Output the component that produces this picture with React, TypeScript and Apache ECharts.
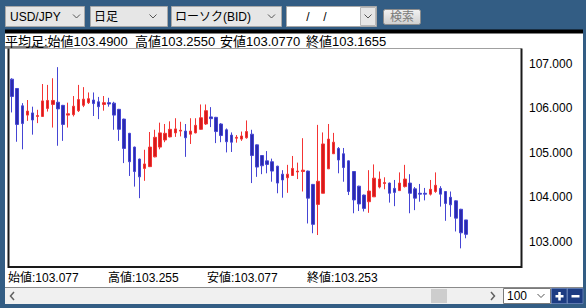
import React, { useEffect, useRef } from "react";
import * as echarts from "echarts";

// ---- Data (Heikin-Ashi daily candles, USD/JPY) ----
const opens = [
  106.66, 106.45, 106.06, 105.85, 105.9, 105.82, 105.82, 106.0, 106.09, 106.14,
  106.07, 105.85, 105.86, 105.95, 106.07, 106.13, 106.19, 106.15, 106.09, 106.13,
  106.12, 105.98, 105.76, 105.44, 105.13, 104.86, 104.65, 104.69, 104.91, 105.13,
  105.29, 105.36, 105.45, 105.49, 105.49, 105.42, 105.45, 105.53, 105.65, 105.81,
  105.8, 105.65, 105.52, 105.4, 105.33, 105.31, 105.34, 105.42, 105.18, 104.94,
  104.82, 104.8, 104.7, 104.52, 104.44, 104.49, 104.57, 104.58, 104.59, 104.29,
  103.84, 104.09, 104.64, 104.98, 105.1, 104.98, 104.82, 104.58, 104.25, 104.05,
  103.9, 104.01, 104.23, 104.31, 104.32, 104.2, 104.15, 104.24, 104.32, 104.19,
  104.09, 104.09, 104.07, 104.13, 104.2, 104.13, 104.0, 103.92, 103.73, 103.49,
];
const closes = [
  106.27, 105.64, 105.66, 105.94, 105.74, 105.84, 106.17, 106.18, 106.18, 105.99,
  105.64, 105.88, 106.05, 106.2, 106.21, 106.22, 106.11, 106.04, 106.13, 106.1,
  105.85, 105.53, 105.1, 104.8, 104.58, 104.46, 104.75, 105.13, 105.35, 105.45,
  105.44, 105.53, 105.54, 105.51, 105.34, 105.49, 105.62, 105.79, 105.95, 105.77,
  105.48, 105.39, 105.25, 105.24, 105.35, 105.38, 105.48, 104.94, 104.68, 104.71,
  104.74, 104.59, 104.32, 104.39, 104.52, 104.65, 104.59, 104.61, 103.98, 103.39,
  104.36, 105.2, 105.31, 105.24, 104.84, 104.67, 104.13, 103.94, 103.85, 103.75,
  104.14, 104.43, 104.41, 104.33, 104.09, 104.11, 104.32, 104.41, 104.09, 103.98,
  104.07, 104.07, 104.18, 104.27, 104.07, 103.86, 103.83, 103.53, 103.2, 103.1655,
];
const lows = [
  105.91, 105.25, 105.08, 105.72, 105.41, 105.67, 105.81, 105.93, 105.57, 105.16,
  105.27, 105.57, 105.82, 105.92, 106.03, 106.1, 105.83, 105.76, 105.95, 106.04,
  105.52, 105.27, 104.77, 104.48, 104.24, 103.98, 104.37, 104.68, 104.9, 105.08,
  105.24, 105.35, 105.36, 105.37, 104.91, 105.2, 105.44, 105.52, 105.63, 105.58,
  105.22, 105.24, 105.01, 105.02, 105.23, 105.27, 105.32, 104.32, 104.46, 104.52,
  104.54, 104.35, 104.09, 103.99, 104.1, 104.48, 104.41, 104.13, 103.41, 103.19,
  103.15, 104.09, 104.64, 104.98, 104.54, 104.35, 104.05, 103.64, 103.69, 103.68,
  103.65, 104.01, 104.2, 104.18, 103.88, 103.8, 104.15, 104.22, 103.64, 103.71,
  103.9, 103.93, 104.04, 104.1, 103.79, 103.47, 103.56, 103.23, 102.85, 103.077,
];
const highs = [
  106.68, 106.46, 106.12, 106.19, 106.04, 105.97, 106.55, 106.53, 106.68, 106.93,
  106.08, 106.13, 106.28, 106.53, 106.48, 106.36, 106.36, 106.26, 106.28, 106.24,
  106.15, 105.99, 105.77, 105.45, 105.14, 104.87, 105.07, 105.47, 105.52, 105.68,
  105.65, 105.71, 105.78, 105.7, 105.65, 105.78, 105.78, 106.09, 106.09, 106.03,
  105.81, 105.67, 105.55, 105.46, 105.4, 105.48, 105.73, 105.52, 105.19, 104.95,
  105.04, 104.87, 104.71, 104.61, 104.73, 104.93, 104.78, 105.33, 104.6, 104.3,
  105.63, 105.46, 105.65, 105.45, 105.13, 105.11, 104.83, 104.59, 104.26, 104.06,
  104.61, 104.74, 104.58, 104.45, 104.33, 104.39, 104.56, 104.73, 104.52, 104.23,
  104.3, 104.21, 104.39, 104.56, 104.25, 104.14, 104.13, 103.93, 103.74, 103.49,
];
const slotCount = 100;
const categories = Array.from({ length: slotCount }, (_, i) => `D${i + 1}`);
const yMin = 102.43;
const yMax = 107.35;

const toolbarLabels = ["USD/JPY", "日足", "ローソク(BID)"];
const headerLabels = ["平均足:始値103.4900", "高値103.2550", "安値103.0770", "終値103.1655"];
const footerLabels = ["始値:103.077", "高値:103.255", "安値:103.077", "終値:103.253"];
const zoomLabel = "100";
const searchLabel = "検索";

const FONT = '"Liberation Sans", Arial, "Noto Sans CJK JP", sans-serif';

const rect = (x: number, y: number, w: number, h: number, fill: string, stroke?: string, lw = 1, z = 1) => ({
  type: "rect",
  silent: true,
  z,
  shape: { x, y, width: w, height: h },
  style: { fill, stroke: stroke || null, lineWidth: stroke ? lw : 0 },
});
const text = (x: number, y: number, t: string, extra: any = {}) => ({
  type: "text",
  silent: true,
  z: 30,
  x,
  y,
  style: { text: t, fill: "#000", fontSize: 12, fontFamily: FONT, verticalAlign: "middle", align: "left", ...extra },
});
const line = (pts: number[][], stroke: string, lw = 1, z = 25) => ({
  type: "polyline",
  silent: true,
  z,
  shape: { points: pts },
  style: { stroke, lineWidth: lw, fill: null },
});
const chevron = (cx: number, cy: number) =>
  line([[cx - 3.5, cy - 2], [cx, cy + 1.5], [cx + 3.5, cy - 2]], "#555", 1, 30);

export default function App() {
  const ref = useRef<HTMLDivElement>(null);
  useEffect(() => {
    if (!ref.current) return;
    const chart = echarts.init(ref.current, undefined, { renderer: "svg", width: 586, height: 308 });
    const candleData = opens.map((o, i) => [o, closes[i], lows[i], highs[i]]);

    const headerX = [5, 135, 220, 306];
    const footerX = [8, 108, 207, 307];

    const graphics: any[] = [
      // white panel
      rect(5, 33, 578, 271, "#ffffff", undefined, 1, 0),
      // black bar under toolbar
      rect(5, 29.5, 578, 4, "#000000", undefined, 1, 1),
      // toolbar dropdowns
      rect(5.5, 6.5, 79, 20, "#e6e6e6", "#a8a8a8", 1, 2),
      rect(90.5, 6.5, 77, 20, "#e6e6e6", "#a8a8a8", 1, 2),
      rect(171.5, 6.5, 110, 20, "#e6e6e6", "#a8a8a8", 1, 2),
      rect(286.5, 6.5, 90, 20, "#ffffff", "#a8a8a8", 1, 2),
      rect(360.5, 7.5, 15, 18, "#e6e6e6", "#b8b8b8", 1, 3),
      {
        type: "rect",
        silent: true,
        z: 2,
        shape: { x: 383.5, y: 9.5, width: 37, height: 15, r: 2 },
        style: {
          fill: new echarts.graphic.LinearGradient(0, 0, 0, 1, [
            { offset: 0, color: "#f2f2f2" },
            { offset: 1, color: "#cfcfcf" },
          ]),
          stroke: "#8c8c8c",
          lineWidth: 1,
        },
      },
      text(10, 17, toolbarLabels[0]),
      text(94, 17, toolbarLabels[1]),
      text(175, 17, toolbarLabels[2]),
      text(308, 17, "/", { align: "center" }),
      text(325, 17, "/", { align: "center" }),
      text(402, 17, searchLabel, { align: "center", fill: "#7a7a7a" }),
      chevron(76.5, 16.5),
      chevron(153, 16.5),
      chevron(271.5, 16.5),
      chevron(368, 16.5),
      // header
      ...headerLabels.map((t, i) => text(headerX[i], 41, t, { fontSize: 13 })),
      line([[5, 48.5], [521.5, 48.5]], "#a0a0a0", 1, 24),
      line([[5, 47], [48, 47]], "#000", 1, 25),
      // plot frame
      line([[8.5, 48.5], [8.5, 267], [521.5, 267], [521.5, 48.5]], "#1a1a1a", 2, 25),
      // footer
      ...footerLabels.map((t, i) => text(footerX[i], 277.5, t)),
      // scrollbar
      line([[5, 287.5], [583, 287.5]], "#8a8a8a", 1, 4),
      rect(5, 288, 498, 16, "#f0f0f0", undefined, 1, 3),
      rect(431, 289, 16, 14, "#cdcdcd", undefined, 1, 4),
      line([[14, 292], [10.5, 296], [14, 300]], "#606060", 1.5, 30),
      line([[491, 292], [494.5, 296], [491, 300]], "#606060", 1.5, 30),
      rect(503.5, 288.5, 47, 15, "#ffffff", "#7a7a7a", 1, 4),
      text(507, 296, zoomLabel),
      chevron(541, 296),
      rect(551.5, 288.5, 15.5, 15, "#1d3c82", "#5d79b0", 1, 4),
      rect(567.5, 288.5, 15.5, 15, "#1d3c82", "#5d79b0", 1, 4),
      rect(555.5, 295, 8, 2.5, "#ffffff", undefined, 1, 6),
      rect(558.25, 292, 2.5, 8.5, "#ffffff", undefined, 1, 6),
      rect(571.5, 295, 8, 2.5, "#ffffff", undefined, 1, 6),
    ];

    chart.setOption({
      animation: false,
      backgroundColor: "#335d84",
      grid: { left: 9.5, top: 48.5, width: 510, height: 218.5, show: false, containLabel: false },
      xAxis: {
        type: "category",
        data: categories,
        boundaryGap: true,
        axisLine: { show: false },
        axisTick: { show: false },
        axisLabel: { show: false },
        splitLine: { show: false },
      },
      yAxis: {
        type: "value",
        position: "right",
        min: yMin,
        max: yMax,
        splitNumber: 5,
        axisLine: { show: false },
        axisTick: { show: false },
        splitLine: { show: false },
        axisLabel: {
          margin: 9.5,
          color: "#000",
          fontSize: 12,
          fontFamily: FONT,
          showMinLabel: false,
          showMaxLabel: false,
          formatter: (v: number) => (Math.abs(v - Math.round(v)) < 1e-6 ? v.toFixed(3) : ""),
        },
      },
      graphic: { elements: graphics },
      series: [
        {
          type: "candlestick",
          data: candleData,
          barWidth: 3,
          z: 10,
          itemStyle: {
            color: "#d41c1c",
            color0: "#2b2baa",
            borderColor: "#f43434",
            borderColor0: "#4545d4",
            borderWidth: 1,
          },
        },
      ],
    });
    return () => chart.dispose();
  }, []);
  return <div ref={ref} style={{ position: "fixed", left: 0, top: 0, width: 586, height: 308 }} />;
}
